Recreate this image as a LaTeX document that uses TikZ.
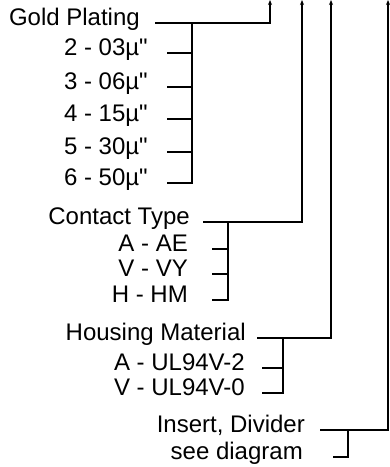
\documentclass[tikz,border=0pt]{standalone}
\usepackage{fontspec}
\setmainfont{Liberation Sans}
\usetikzlibrary{arrows.meta}
\tikzset{
  lbl/.style={anchor=mid east, inner sep=0pt, font=\fontsize{24}{27}\selectfont},
  lead/.style={line width=1.5pt},
  tip/.style={lead, -{Stealth[length=5pt,width=4pt]}},
}
\begin{document}
\begin{tikzpicture}[x=1pt, y=-1pt]
  \useasboundingbox (0,0) rectangle (390,467);
  % leads run up to the top edge
  \coordinate (gold-top) at (270,0);
  \coordinate (contact-top) at (302,0);
  \coordinate (housing-top) at (331,0);
  \coordinate (insert-top) at (388,0);

  % gold plating
  \node[lbl] (gold) at (140,23) {Gold Plating};
  \coordinate (gold-br) at (192,23);
  \draw[tip] ([xshift=15pt]gold.mid east) -| (gold-top);
  \foreach \n/\lab/\y in {2/03/53, 3/06/87, 4/15/119, 5/30/152, 6/50/183} {
    \node[lbl] (gold-\n) at (148,\y) {\n\ - \lab µ\textquotedbl};
    \draw[lead] ([xshift=19pt]gold-\n.mid east) -| (gold-br);
  }

  % contact type
  \node[lbl] (contact) at (190,222) {Contact Type};
  \coordinate (contact-br) at (228,222);
  \draw[tip] ([xshift=13pt]contact.mid east) -| (contact-top);
  \foreach \n/\lab/\y in {A/AE/249, V/VY/274, H/HM/300} {
    \node[lbl] (contact-\n) at (188,\y) {\n\ - \lab};
    \draw[lead] ([xshift=24pt]contact-\n.mid east) -| (contact-br);
  }

  % housing material
  \node[lbl] (housing) at (246,338) {Housing Material};
  \coordinate (housing-br) at (283,338);
  \draw[tip] ([xshift=11pt]housing.mid east) -| (housing-top);
  \foreach \n/\lab/\y in {A/UL94V-2/368, V/UL94V-0/393} {
    \node[lbl] (housing-\n) at (245,\y) {\n\ - \lab};
    \draw[lead] ([xshift=17pt]housing-\n.mid east) -| (housing-br);
  }

  % insert, divider
  \node[lbl] (insert) at (305,430) {Insert, Divider};
  \coordinate (insert-br) at (348,430);
  \draw[tip] ([xshift=15pt]insert.mid east) -| (insert-top);
  \node[lbl] (diagram) at (303,457) {see diagram};
  \draw[lead] ([xshift=30pt]diagram.mid east) -| (insert-br);
\end{tikzpicture}
\end{document}
